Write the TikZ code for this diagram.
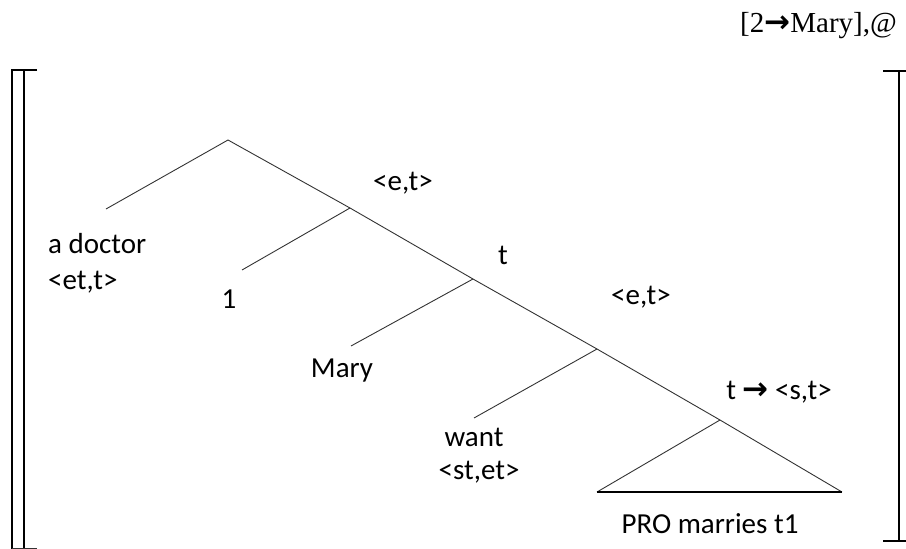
\documentclass[tikz,border=0pt]{standalone}
\usepackage{fontspec}
\setmainfont{Carlito}
\newfontfamily\timesfont{Liberation Serif}
\newfontfamily\arrowfont{DejaVu Sans}
\newcommand\thickarrow{{\arrowfont\bfseries\fontsize{31}{32}\selectfont →}}

\begin{document}
\begin{tikzpicture}[x=1pt,y=-1pt]
    \tikzset{edge/.style={draw=black!80,line width=0.9pt},
      base/.style={draw=black,line width=1.6pt},
      bracket/.style={draw=black,line width=1.8pt},
      lbl/.style={inner sep=0pt,anchor=base,font=\fontsize{29}{34}\selectfont},
      leftlbl/.style={lbl,anchor=base west}};
    \useasboundingbox (0,0) rectangle (906,549);
    % tree vertices
    \coordinate (root) at (228,140);
    \coordinate (adoc) at (106,209);
    \coordinate (et1) at (350,208);
    \coordinate (one) at (242,270);
    \coordinate (tnode) at (473,279);
    \coordinate (mary) at (351,346);
    \coordinate (et2) at (597,349);
    \coordinate (want) at (474,418);
    \coordinate (tst) at (720,420);
    \coordinate (triL) at (597,492);
    \coordinate (triR) at (842,492);
    % edges
    \draw[edge] (adoc) -- (root) -- (et1) -- (tnode) -- (et2) -- (tst) -- (triR);
    \draw[edge] (et1) -- (one);
    \draw[edge] (tnode) -- (mary);
    \draw[edge] (et2) -- (want);
    \draw[edge] (tst) -- (triL);
    \draw[base] (triL) -- (triR);
    % labels
    \node[leftlbl] (ladoc) at (48,253) {a doctor};
    \node[leftlbl] (ladoctype) at (48,289) {<et,t>};
    \node[lbl] (lone) at (229,308) {1};
    \node[lbl] (let1) at (403,190) {<e,t>};
    \node[lbl] (lt) at (503,264) {t};
    \node[lbl] (let2) at (641,304) {<e,t>};
    \node[lbl] (lmary) at (342,377) {Mary};
    \node[lbl] (ltst) at (779,399) {t \thickarrow\ <s,t>};
    \node[lbl] (lwant) at (474,446) {want};
    \node[lbl] (lwanttype) at (479,479) {<st,et>};
    \node[lbl] (lpro) at (710,533) {PRO marries t1};
    \node[lbl,anchor=base east,font=\fontsize{29}{34}\selectfont\timesfont] (lassign) at (897,32) {[2\thickarrow Mary],@};
    % brackets
    \draw[bracket] (37,70) -- (12,70) -- (12,549);
    \draw[bracket] (24,70) -- (24,549);
    \draw[edge] (12,548) -- (37,548);
    \draw[bracket] (883,71) -- (906,71);
    \draw[bracket] (899,71) -- (899,541);
    \draw[bracket] (883,541) -- (906,541);
\end{tikzpicture}
\end{document}
